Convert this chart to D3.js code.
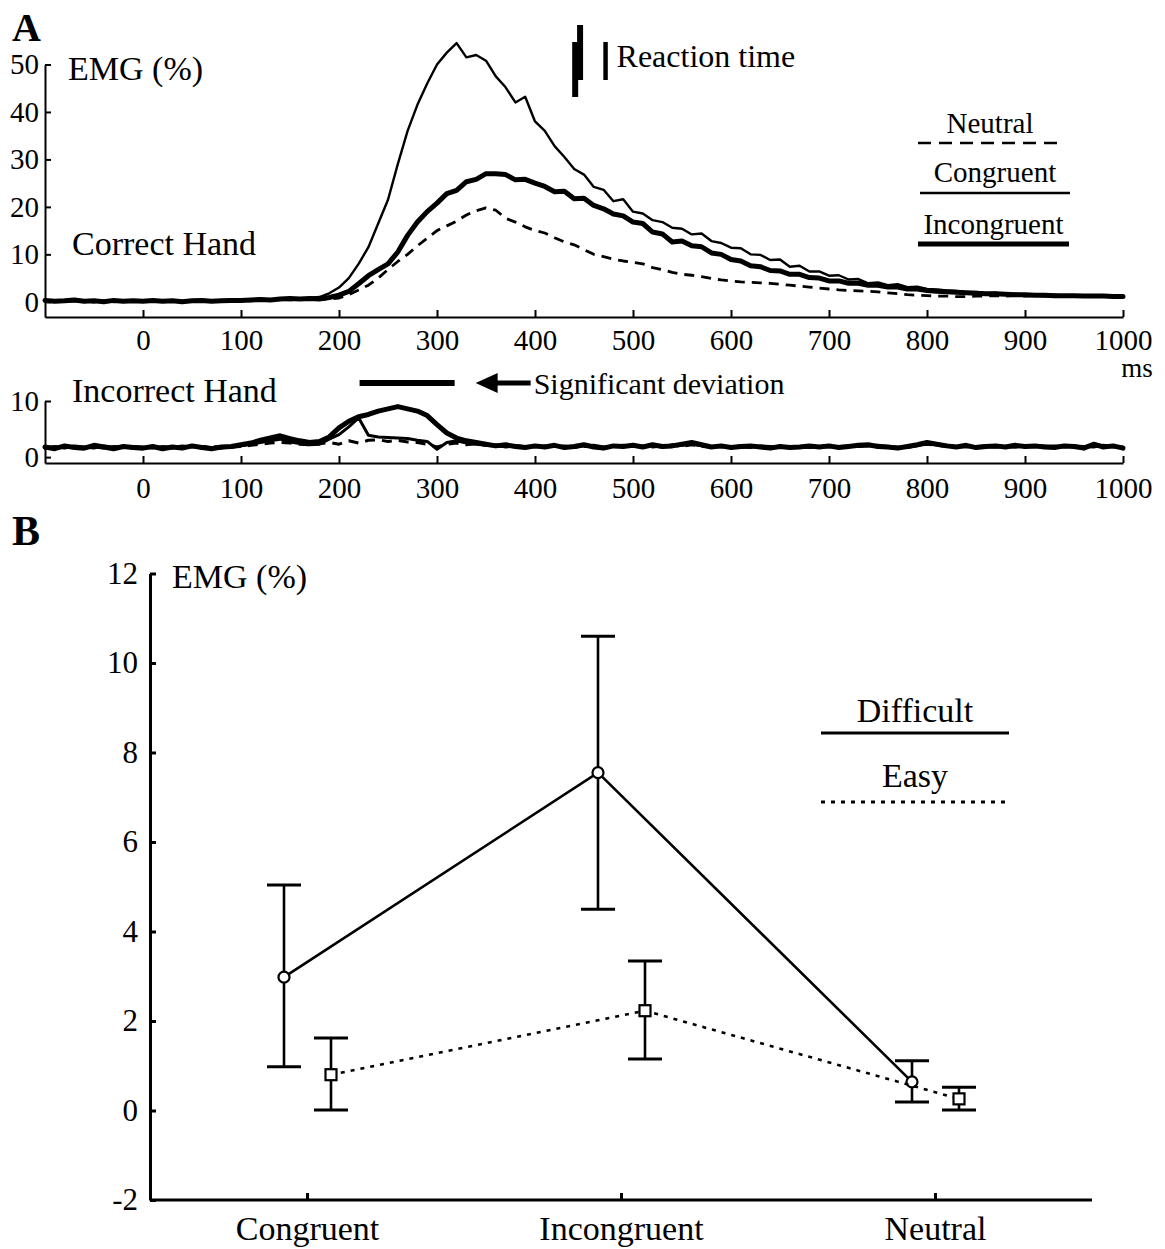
<!DOCTYPE html>
<html><head><meta charset="utf-8">
<script src="https://cdn.jsdelivr.net/npm/d3@7"></script>
<style>
html,body{margin:0;padding:0;background:#fff;}
svg{display:block;font-family:"Liberation Serif","Times New Roman",serif;}
</style></head>
<body>
<svg id="chart" width="1165" height="1249"></svg>
<script>
// ---------------- DATA ----------------
const timeMs = [-100,-90,-80,-70,-60,-50,-40,-30,-20,-10,
  0,10,20,30,40,50,60,70,80,90,
  100,110,120,130,140,150,160,170,180,190,
  200,210,220,230,240,250,260,270,280,290,
  300,310,320,330,340,350,360,370,380,390,
  400,410,420,430,440,450,460,470,480,490,
  500,510,520,530,540,550,560,570,580,590,
  600,610,620,630,640,650,660,670,680,690,
  700,710,720,730,740,750,760,770,780,790,
  800,810,820,830,840,850,860,870,880,890,
  900,910,920,930,940,950,960,970,980,990,
  1000];

// Correct hand (EMG %)
const congruentCorrect = [0.2,0.0,0.3,0.1,0.2,-0.1,0.2,0.1,0.3,0.0,
  0.2,0.1,0.3,0.0,0.2,0.1,0.2,0.3,0.1,0.2,
  0.2,0.4,0.3,0.5,0.6,0.7,0.6,0.8,1.0,1.8,
  3.0,5.0,8.0,11.5,16.5,21.5,29.0,36.0,41.5,46.0,
  50.0,52.5,54.5,51.5,52.0,50.8,47.5,45.2,42.0,43.2,
  38.0,36.0,32.8,30.5,28.0,26.8,24.2,23.6,21.2,21.6,
  19.0,18.6,17.2,16.8,15.6,15.4,14.2,14.4,12.8,12.4,
  11.4,11.3,10.0,9.9,8.8,8.9,7.4,7.6,6.4,6.4,
  5.5,5.6,4.7,4.8,3.9,4.1,3.5,3.7,3.1,3.2,
  2.7,2.6,2.4,2.3,2.0,2.1,1.8,1.9,1.6,1.7,
  1.5,1.6,1.4,1.5,1.3,1.4,1.2,1.3,1.2,1.1,
  1.2];
const incongruentCorrect = [0.3,0.1,0.2,0.4,0.1,0.2,0.0,0.3,0.1,0.2,
  0.1,0.3,0.1,0.2,0.0,0.2,0.3,0.1,0.2,0.3,
  0.3,0.4,0.5,0.4,0.6,0.7,0.6,0.7,0.6,0.9,
  1.4,2.2,3.8,5.5,6.8,8.0,10.5,14.0,16.8,19.0,
  20.8,22.8,23.5,25.3,25.8,27.0,27.0,26.8,25.7,25.8,
  25.0,24.3,23.2,23.3,21.7,21.8,20.3,19.6,18.5,18.1,
  16.8,16.5,14.7,14.3,12.6,12.8,11.8,11.6,10.3,10.0,
  8.9,8.6,7.6,7.4,6.6,6.5,5.8,5.8,5.1,5.0,
  4.4,4.4,3.9,3.9,3.5,3.5,3.1,3.1,2.7,2.7,
  2.4,2.2,2.1,2.0,1.9,1.8,1.7,1.7,1.6,1.5,
  1.5,1.4,1.4,1.3,1.3,1.3,1.2,1.2,1.2,1.1,
  1.1];
const neutralCorrect = [0.2,0.1,0.2,0.1,0.3,0.1,0.2,0.0,0.2,0.1,
  0.2,0.1,0.2,0.3,0.1,0.2,0.1,0.2,0.3,0.2,
  0.3,0.2,0.4,0.3,0.5,0.4,0.5,0.6,0.5,0.6,
  0.8,1.5,2.5,3.5,5.0,6.8,8.5,10.0,11.8,13.4,
  15.0,16.0,17.0,18.3,19.2,19.8,19.3,17.6,16.8,15.8,
  15.0,14.5,13.5,12.6,12.0,11.0,10.0,9.5,9.0,8.6,
  8.3,8.0,7.2,6.8,6.2,5.8,5.6,5.3,4.9,4.6,
  4.4,4.2,4.1,4.0,3.9,3.7,3.5,3.3,3.1,2.9,
  2.7,2.5,2.4,2.3,2.2,2.1,1.9,1.7,1.5,1.4,
  1.3,1.2,1.2,1.1,1.1,1.2,1.2,1.3,1.2,1.3,
  1.2,1.3,1.2,1.2,1.1,1.2,1.1,1.2,1.1,1.1,
  1.1];

// Incorrect hand (EMG %)
const incongruentIncorrect = [1.8,1.5,2.0,1.7,1.6,2.1,1.8,1.5,1.9,1.7,
  1.6,1.9,1.5,1.8,1.6,2.0,1.7,1.5,1.8,1.9,
  2.2,2.5,3.0,3.4,3.8,3.3,2.9,2.6,2.8,3.6,
  5.2,6.4,7.2,7.6,8.2,8.6,9.0,8.6,8.2,7.4,
  5.8,4.3,3.4,2.9,2.6,2.3,2.0,2.2,1.9,1.7,
  2.0,1.8,2.1,1.7,1.9,2.2,1.8,1.6,2.0,1.9,
  2.1,1.8,2.2,1.9,2.0,2.3,2.6,2.2,1.8,2.0,
  1.7,1.9,2.0,1.8,1.6,1.9,1.7,1.8,2.0,1.8,
  2.0,1.7,1.9,2.1,2.2,1.9,1.8,1.6,1.9,2.2,
  2.6,2.3,2.0,1.8,2.1,1.7,1.9,2.0,1.8,2.1,
  1.9,2.0,1.8,1.7,2.0,1.9,1.6,2.3,1.8,2.0,
  1.6];
const congruentIncorrect = [1.6,1.9,1.7,2.0,1.8,1.6,2.0,1.8,1.7,1.9,
  1.8,1.6,1.9,1.7,2.0,1.8,1.9,1.7,1.6,1.8,
  2.0,2.3,2.6,2.9,3.2,2.7,2.4,2.2,2.3,3.2,
  4.0,5.4,7.0,3.9,3.6,3.5,3.4,3.3,3.0,2.8,
  1.4,2.6,2.9,2.5,2.3,2.1,2.2,1.8,2.0,1.9,
  1.8,2.0,1.9,2.0,1.7,2.0,2.1,1.8,1.9,2.1,
  1.9,2.0,2.0,1.8,2.2,2.1,2.3,2.0,1.9,1.8,
  1.9,1.8,1.7,2.0,1.9,1.8,1.9,1.7,1.8,1.9,
  1.8,1.9,2.0,1.9,2.0,2.1,1.9,1.8,1.7,2.0,
  2.4,2.2,2.1,1.9,1.8,1.9,2.0,1.8,1.9,1.8,
  2.0,1.8,1.9,2.0,1.8,2.0,1.9,1.8,2.1,1.9,
  1.8];
const neutralIncorrect = [1.7,1.8,1.6,1.9,1.7,1.8,1.6,1.9,1.8,1.6,
  1.9,1.7,1.8,1.6,1.9,1.7,1.8,1.9,1.7,1.8,
  1.9,2.1,2.3,2.5,2.6,2.5,2.3,2.2,2.4,2.6,
  2.3,2.9,2.5,3.0,3.1,2.8,3.0,2.7,2.6,2.3,
  1.8,2.3,2.5,2.2,2.4,2.1,2.0,1.9,2.1,1.8,
  1.9,1.8,2.0,1.9,1.8,1.9,2.0,1.7,1.8,2.0,
  2.0,1.9,1.8,2.0,2.1,1.9,2.2,1.9,1.8,1.9,
  1.8,2.0,1.8,1.9,1.7,1.9,1.8,1.9,1.7,1.8,
  1.9,1.8,1.9,2.0,2.1,1.8,1.9,1.7,1.8,2.1,
  2.3,2.1,1.9,1.8,2.0,1.8,1.9,1.8,1.9,1.8,
  1.8,1.9,2.0,1.8,1.9,1.8,1.7,2.0,1.9,1.8,
  1.7];

const timeTicks = [0,100,200,300,400,500,600,700,800,900,1000];
const correctTicks = [0,10,20,30,40,50];
const incorrectTicks = [0,10];
const reactionTimesMs = [441, 446, 472];   // three reaction-time markers
const significantDeviationMs = [221, 318];

// Panel B
const categories = ["Congruent","Incongruent","Neutral"];
const difficultMean = [2.98, 7.55, 0.64];
const difficultLow  = [0.98, 4.50, 0.19];
const difficultHigh = [5.04, 10.60, 1.11];
const easyMean = [0.80, 2.23, 0.26];
const easyLow  = [0.01, 1.15, 0.01];
const easyHigh = [1.62, 3.34, 0.52];
const bTicks = [-2,0,2,4,6,8,10,12];

// ---------------- DRAW ----------------
const svg = d3.select("#chart");
const ink = "#000";

// panel labels
svg.append("text").attr("x",12).attr("y",41).attr("font-size",40).attr("font-weight","bold").text("A");
svg.append("text").attr("x",12).attr("y",545).attr("font-size",42).attr("font-weight","bold").text("B");

const xA = d3.scaleLinear().domain([-100,1000]).range([45,1123]);
const yTop = d3.scaleLinear().domain([-3.2,50]).range([317,64.5]);
const yBot = d3.scaleLinear().domain([-1.05,10]).range([463,401]);

function styleAxis(g, fs, sw){
  g.selectAll("path.domain").attr("stroke",ink).attr("stroke-width",sw);
  g.selectAll(".tick line").attr("stroke",ink).attr("stroke-width",sw);
  g.selectAll(".tick text").attr("fill",ink).attr("font-size",fs)
    .attr("font-family","Liberation Serif, Times New Roman, serif");
  g.attr("font-family",null);
}

// top axes
let gx = svg.append("g").attr("transform",`translate(0,${yTop.range()[0]})`)
  .call(d3.axisBottom(xA).tickValues(timeTicks).tickSize(-7).tickSizeOuter(0).tickPadding(12).tickFormat(d3.format("d")));
styleAxis(gx,29,2);
let gy = svg.append("g").attr("transform",`translate(${xA.range()[0]},0)`)
  .call(d3.axisLeft(yTop).tickValues(correctTicks).tickSize(-6).tickSizeOuter(0).tickPadding(6));
styleAxis(gy,29,2);

// bottom (incorrect hand) axes
let gx2 = svg.append("g").attr("transform",`translate(0,${yBot.range()[0]})`)
  .call(d3.axisBottom(xA).tickValues(timeTicks).tickSize(-7).tickSizeOuter(0).tickPadding(14).tickFormat(d3.format("d")));
styleAxis(gx2,29,2);
let gy2 = svg.append("g").attr("transform",`translate(${xA.range()[0]},0)`)
  .call(d3.axisLeft(yBot).tickValues(incorrectTicks).tickSize(-6).tickSizeOuter(0).tickPadding(6));
styleAxis(gy2,29,2);

// traces
function trace(values, yScale, opts){
  const pts = timeMs.map((t,i)=>({t, v: values[i]}));
  const line = d3.line().x(d=>xA(d.t)).y(d=>yScale(d.v));
  svg.append("path").datum(pts).attr("d",line)
    .attr("fill","none").attr("stroke",ink)
    .attr("stroke-width",opts.w).attr("stroke-dasharray",opts.dash||null)
    .attr("stroke-linejoin","round").attr("stroke-linecap", opts.dash ? "butt" : "round");
}
trace(neutralCorrect, yTop, {w:2.8, dash:"10,7"});
trace(congruentCorrect, yTop, {w:2.4});
trace(incongruentCorrect, yTop, {w:5});

trace(neutralIncorrect, yBot, {w:3, dash:"10,7"});
trace(congruentIncorrect, yBot, {w:3});
trace(incongruentIncorrect, yBot, {w:5});

// text labels panel A
svg.append("text").attr("x",68).attr("y",80).attr("font-size",34).text("EMG (%)");
svg.append("text").attr("x",72).attr("y",255).attr("font-size",34).text("Correct Hand");
svg.append("text").attr("x",72).attr("y",402).attr("font-size",34).text("Incorrect Hand");
svg.append("text").attr("x",1137).attr("y",377).attr("font-size",27).attr("text-anchor","middle").text("ms");

// reaction time markers
const rtSpans = [[42,97,6],[25,80,6],[42,80,4.5]];
reactionTimesMs.forEach((ms,i)=>{
  svg.append("line").attr("x1",xA(ms)).attr("x2",xA(ms))
    .attr("y1",rtSpans[i][0]).attr("y2",rtSpans[i][1])
    .attr("stroke",ink).attr("stroke-width",rtSpans[i][2]);
});
svg.append("text").attr("x",xA(reactionTimesMs[2])+11).attr("y",67).attr("font-size",32).text("Reaction time");

// significant deviation
const sdY = 383;
svg.append("line").attr("x1",xA(significantDeviationMs[0])).attr("x2",xA(significantDeviationMs[1]))
  .attr("y1",sdY).attr("y2",sdY).attr("stroke",ink).attr("stroke-width",6);
const tipX = xA(significantDeviationMs[1]) + 21;
svg.append("path").attr("d",`M${tipX},${sdY} L${tipX+22},${sdY-10} L${tipX+22},${sdY+10} Z`).attr("fill",ink);
svg.append("line").attr("x1",tipX+20).attr("x2",tipX+55).attr("y1",sdY).attr("y2",sdY).attr("stroke",ink).attr("stroke-width",5);
svg.append("text").attr("x",tipX+58).attr("y",sdY+11).attr("font-size",30).text("Significant deviation");

// legend A
const legA = [
  {label:"Neutral", st:{w:2.6,dash:"13,8"}, ty:133, ly:143, x1:918, x2:1062},
  {label:"Congruent", st:{w:2.4}, ty:182, ly:193, x1:920, x2:1070},
  {label:"Incongruent", st:{w:5}, ty:234, ly:244, x1:918, x2:1069}
];
legA.forEach(l=>{
  svg.append("text").attr("x",(l.x1+l.x2)/2).attr("y",l.ty).attr("font-size",29).attr("text-anchor","middle").text(l.label);
  svg.append("line").attr("x1",l.x1).attr("x2",l.x2).attr("y1",l.ly).attr("y2",l.ly)
    .attr("stroke",ink).attr("stroke-width",l.st.w).attr("stroke-dasharray",l.st.dash||null);
});

// ---------------- PANEL B ----------------
const xB = d3.scalePoint().domain(categories).range([150,1092]).padding(0.5);
const yB = d3.scaleLinear().domain([-2,12]).range([1200,573.5]);

let gbx = svg.append("g").attr("transform",`translate(0,${yB.range()[0]})`)
  .call(d3.axisBottom(xB).tickSize(-7).tickSizeOuter(0).tickPadding(16));
styleAxis(gbx,34,3);
gbx.select("path.domain").attr("d",`M${xB.range()[0]},0H${xB.range()[1]}`);
let gby = svg.append("g").attr("transform",`translate(${xB.range()[0]},0)`)
  .call(d3.axisLeft(yB).tickValues(bTicks).tickSize(-6).tickSizeOuter(0).tickPadding(12).tickFormat(d3.format("d")));
styleAxis(gby,31,3);
gby.selectAll(".tick text").text(d=>d<0 ? "-"+Math.abs(d) : d);

svg.append("text").attr("x",172).attr("y",588).attr("font-size",34).text("EMG (%)");

const offDiff = -23, offEasy = 24, capHalf = 17;
function series(mean, low, high, off, dash, marker){
  const pts = categories.map((c,i)=>({x:xB(c)+off, m:mean[i], lo:low[i], hi:high[i]}));
  const g = svg.append("g");
  g.append("path").datum(pts).attr("d",d3.line().x(d=>d.x).y(d=>yB(d.m)))
    .attr("fill","none").attr("stroke",ink).attr("stroke-width",2.6).attr("stroke-dasharray",dash);
  pts.forEach(p=>{
    g.append("line").attr("x1",p.x).attr("x2",p.x).attr("y1",yB(p.lo)).attr("y2",yB(p.hi)).attr("stroke",ink).attr("stroke-width",2.6);
    [p.lo,p.hi].forEach(v=>g.append("line").attr("x1",p.x-capHalf).attr("x2",p.x+capHalf)
      .attr("y1",yB(v)).attr("y2",yB(v)).attr("stroke",ink).attr("stroke-width",3));
    if(marker==="circle"){
      g.append("circle").attr("cx",p.x).attr("cy",yB(p.m)).attr("r",5.5).attr("fill","#fff").attr("stroke",ink).attr("stroke-width",2.2);
    } else {
      g.append("rect").attr("x",p.x-5.5).attr("y",yB(p.m)-5.5).attr("width",11).attr("height",11).attr("fill","#fff").attr("stroke",ink).attr("stroke-width",2.2);
    }
  });
}
series(difficultMean,difficultLow,difficultHigh,offDiff,null,"circle");
series(easyMean,easyLow,easyHigh,offEasy,"4,6","square");

// legend B
const legB = [
  {label:"Difficult", dash:null, ty:722, ly:733},
  {label:"Easy", dash:"4,6", ty:787, ly:802}
];
legB.forEach(l=>{
  svg.append("text").attr("x",915).attr("y",l.ty).attr("font-size",34).attr("text-anchor","middle").text(l.label);
  svg.append("line").attr("x1",821).attr("x2",1009).attr("y1",l.ly).attr("y2",l.ly)
    .attr("stroke",ink).attr("stroke-width",3).attr("stroke-dasharray",l.dash);
});
</script>
</body></html>
